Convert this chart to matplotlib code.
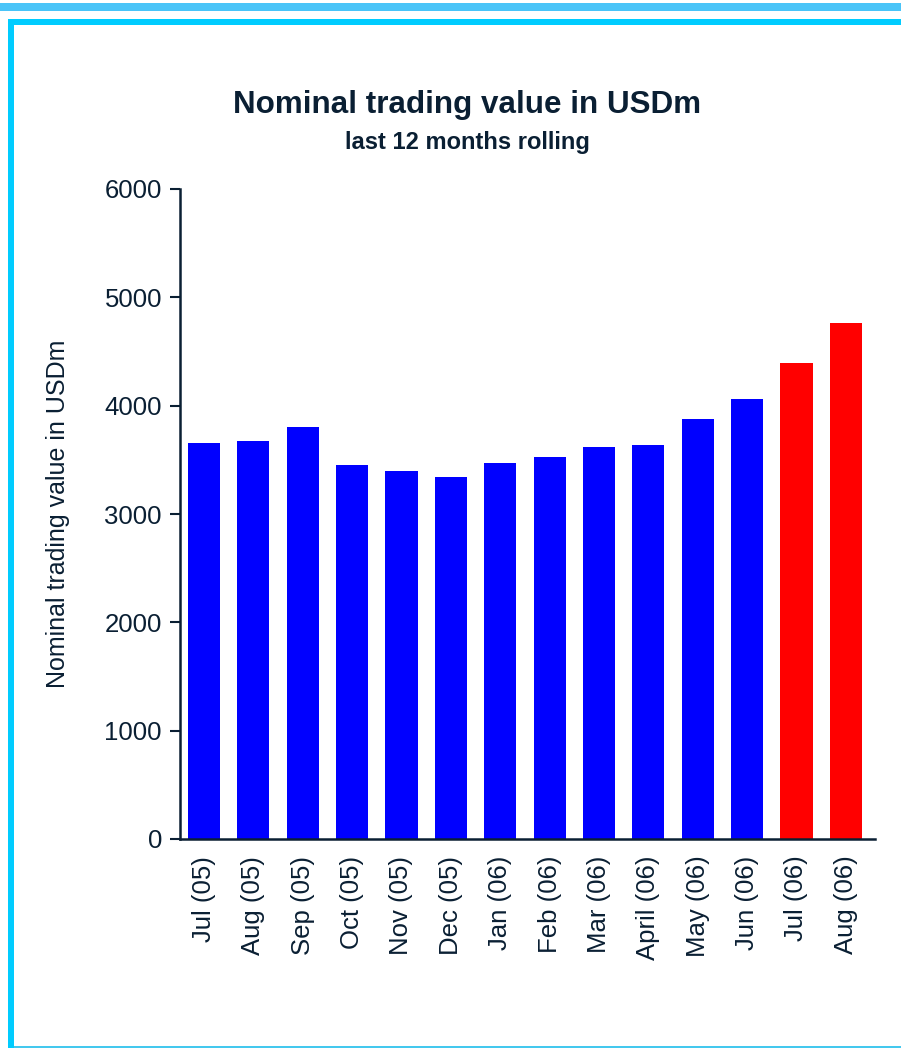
import matplotlib
matplotlib.use("Agg")
import matplotlib.pyplot as plt
from matplotlib.patches import Rectangle

months = ["Jul (05)", "Aug (05)", "Sep (05)", "Oct (05)", "Nov (05)", "Dec (05)",
          "Jan (06)", "Feb (06)", "Mar (06)", "April (06)", "May (06)", "Jun (06)",
          "Jul (06)", "Aug (06)"]
values = [3656, 3675, 3804, 3453, 3398, 3343, 3472, 3527, 3620, 3638, 3878, 4063,
          4395, 4765]
colors = ["#0000FF"] * 12 + ["#FF0000"] * 2
yticks = [0, 1000, 2000, 3000, 4000, 5000, 6000]

text_color = "#0A1F33"
plt.rcParams["font.family"] = ["Liberation Sans", "DejaVu Sans"]

fig = plt.figure(figsize=(9.01, 10.48), dpi=100)
W, H = 901, 1048

# frame decorations (pixel coords -> figure fraction)
def px_rect(x0, y0, x1, y1, color):
    fig.patches.append(Rectangle((x0 / W, 1 - y1 / H), (x1 - x0) / W, (y1 - y0) / H,
                                 transform=fig.transFigure, color=color, lw=0, zorder=0))

px_rect(0, 3, W, 11, "#4AC4F8")
px_rect(8, 19, W, 25, "#00CCFF")
px_rect(8, 19, 14, H, "#00CCFF")
px_rect(14, 1046, W, 1048, "#44C8EE")

ax = fig.add_axes([180 / W, 1 - 839 / H, (875 - 180) / W, (839 - 189) / H])
x = range(len(months))
ax.bar(x, values, width=0.65, color=colors, zorder=2)

ax.set_xlim(-0.486, 13.59)
ax.set_ylim(0, 6000)
ax.set_yticks(yticks)
ax.set_xticks(list(x))
ax.set_xticklabels(months, rotation=90, fontsize=18.5, color=text_color)
ax.tick_params(axis="y", labelsize=18.5, colors=text_color, length=7, width=1.5,
               direction="out", pad=6)
ax.tick_params(axis="x", length=0, pad=12)
for lab in ax.get_yticklabels():
    lab.set_color(text_color)

for s in ["top", "right"]:
    ax.spines[s].set_visible(False)
for s in ["left", "bottom"]:
    ax.spines[s].set_color(text_color)
    ax.spines[s].set_linewidth(1.8)

ax.set_ylabel("Nominal trading value in USDm", fontsize=18, color=text_color, labelpad=25)

fig.text(467 / W, 1 - 105 / H, "Nominal trading value in USDm", ha="center", va="center",
         fontsize=22.6, fontweight="bold", color=text_color)
fig.text(467 / W, 1 - 142 / H, "last 12 months rolling", ha="center", va="center",
         fontsize=17, fontweight="bold", color=text_color)

fig.savefig("out.png", dpi=100)
